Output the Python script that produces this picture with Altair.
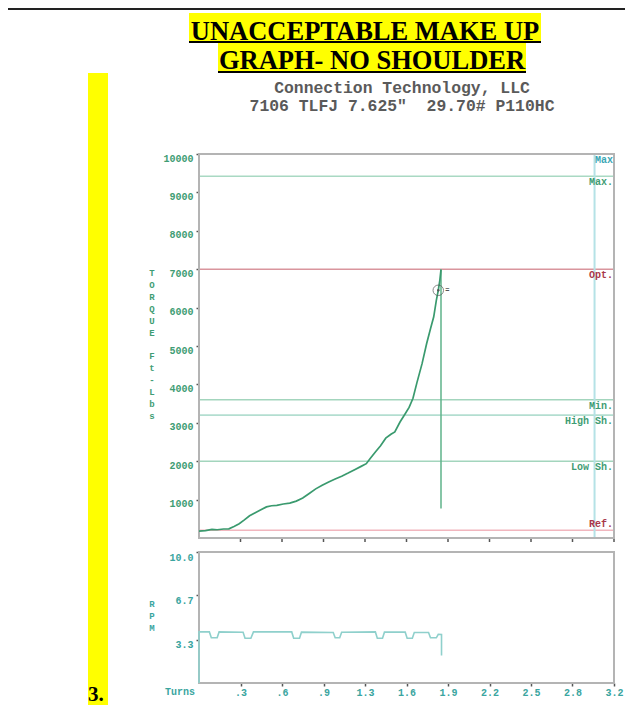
import altair as alt
import pandas as pd

# ---------------- data ----------------
torque_turns = [0.00, 0.05, 0.10, 0.14, 0.19, 0.23, 0.27, 0.31, 0.35, 0.39, 0.43, 0.47, 0.52, 0.56,
                0.60, 0.65, 0.70, 0.75, 0.80, 0.85, 0.90, 0.95, 1.00, 1.05, 1.10, 1.15, 1.20, 1.25,
                1.29, 1.32, 1.36, 1.40, 1.44, 1.48, 1.51, 1.55, 1.59, 1.62, 1.65, 1.68, 1.72, 1.755,
                1.785, 1.81, 1.83, 1.845, 1.857, 1.866]
torque_vals = [180, 190, 225, 215, 235, 240, 300, 370, 470, 580, 650, 720, 810, 840,
               850, 885, 910, 960, 1040, 1160, 1280, 1375, 1460, 1535, 1610, 1690, 1780, 1865,
               1935, 2070, 2240, 2400, 2600, 2700, 2760, 3020, 3235, 3400, 3640, 4040, 4540, 5060,
               5450, 5760, 6190, 6450, 6710, 6990]

rpm_turns = [0.0, 0.0, 0.08, 0.095, 0.14, 0.155, 0.34, 0.355, 0.40, 0.42, 0.715, 0.73, 0.775, 0.79,
             1.035, 1.05, 1.085, 1.10, 1.36, 1.375, 1.415, 1.43, 1.59, 1.605, 1.645, 1.66,
             1.77, 1.785, 1.83, 1.845, 1.87, 1.87]
rpm_vals = [0.0, 3.9, 3.9, 3.45, 3.45, 3.9, 3.88, 3.42, 3.42, 3.9, 3.9, 3.42, 3.42, 3.88,
            3.86, 3.45, 3.45, 3.88, 3.9, 3.42, 3.42, 3.88, 3.88, 3.42, 3.42, 3.86,
            3.85, 3.45, 3.45, 3.72, 3.7, 2.1]

limit_names = ["Max", "Max.", "Opt.", "Min.", "High Sh.", "Low Sh.", "Ref."]
limit_vals = [10000, 9420, 7000, 3600, 3200, 2000, 200]
limit_line_colors = ["#b4b4b4", "#a9d9c3", "#d9959d", "#a3d5bd", "#b3ded0", "#a3d5bd", "#f1b6be"]
limit_label_colors = ["#3aa7b5", "#3f9d74", "#a8384a", "#3f9d74", "#3f9d74", "#3f9d74", "#a8384a"]
limit_label_side = ["below", "below", "below", "below", "below", "below", "above"]

max_turns = 3.05
final_turns = 1.866
final_low, final_high = 770, 7000
marker_turns, marker_torque = 1.845, 6450

x_tick_vals = [0.32, 0.64, 0.96, 1.28, 1.6, 1.92, 2.24, 2.56, 2.88, 3.2]
x_tick_labels = [".3", ".6", ".9", "1.3", "1.6", "1.9", "2.2", "2.5", "2.8", "3.2"]
torque_ticks = [1000, 2000, 3000, 4000, 5000, 6000, 7000, 8000, 9000, 10000]
rpm_ticks = [3.3, 6.7, 10.0]

title_lines = ["UNACCEPTABLE MAKE UP", "GRAPH- NO SHOULDER"]
sub_lines = ["Connection Technology, LLC", '7106 TLFJ 7.625"\u00a0 29.70# P110HC']
torque_letters_1 = ["T", "O", "R", "Q", "U", "E"]
torque_letters_2 = ["F", "t", "-", "L", "b", "s"]
rpm_letters = ["R", "P", "M"]
x_title = "Turns"
figure_no = "3."

# ---------------- styling ----------------
GREEN = "#3f9d74"
TEAL = "#3aa5a0"
MONO = "Liberation Mono"
W, H = 415, 529
TOP_H = 384
BOT_TOP = 398
LH = 11.9

xscale = alt.Scale(domain=[0, 3.2], nice=False, zero=False)
ty = alt.Scale(domain=[0, 10000], range=[TOP_H, 0], nice=False, zero=False)
ry = alt.Scale(domain=[0, 10], range=[H, BOT_TOP], nice=False, zero=False)

label_expr = "[" + ",".join(f"'{l}'" for l in x_tick_labels) + "][round(datum.value / 0.32) - 1]"
xaxis = alt.Axis(values=x_tick_vals, labelExpr=label_expr, title=None, domain=False, grid=False,
                 tickSize=3, tickColor="#555", tickWidth=1.5, labelColor=TEAL, labelFont=MONO,
                 labelFontSize=10, labelFontWeight="bold", labelPadding=1, labelFlush=False,
                 labelOverlap=False, orient="bottom")
taxis = alt.Axis(values=torque_ticks, format="d", title=None, domain=False, grid=False, orient="left",
                 tickSize=3, tickColor="#555", tickWidth=1.5, labelColor=GREEN, labelFont=MONO,
                 labelFontSize=10, labelFontWeight="bold", labelPadding=3, labelOffset=4)
raxis = alt.Axis(values=rpm_ticks, format=".1f", title=None, domain=False, grid=False, orient="left",
                 tickSize=3, tickColor="#555", tickWidth=1.5, labelColor=TEAL, labelFont=MONO,
                 labelFontSize=10, labelFontWeight="bold", labelPadding=3, labelOffset=5)

torque_df = pd.DataFrame({"turns": torque_turns, "torque": torque_vals, "i": range(len(torque_vals))})
rpm_df = pd.DataFrame({"turns": rpm_turns, "rpm": rpm_vals, "i": range(len(rpm_vals))})
limits_df = pd.DataFrame({"name": limit_names, "torque": limit_vals, "lc": limit_line_colors,
                          "tc": limit_label_colors, "side": limit_label_side})
xt_df = pd.DataFrame({"turns": x_tick_vals})
one = pd.DataFrame({"k": [0]})

def X(field):
    return alt.X(f"{field}:Q", scale=xscale, axis=xaxis)

def TY(field):
    return alt.Y(f"{field}:Q", scale=ty, axis=taxis)

def RY(field):
    return alt.Y(f"{field}:Q", scale=ry, axis=raxis)

# ---------------- top panel ----------------
frame_top = alt.Chart(pd.DataFrame({"x0": [0], "x1": [3.2], "y0": [0], "y1": [10000]})).mark_rect(
    fillOpacity=0, stroke="#b4b4b4", strokeWidth=2).encode(x=X("x0"), x2="x1", y=TY("y0"), y2="y1")

hlines = alt.Chart(limits_df).mark_rule(strokeWidth=1.6).encode(
    x=alt.value(0), x2=alt.value(W), y=TY("torque"), color=alt.Color("lc:N", scale=None))

max_turn_line = alt.Chart(pd.DataFrame({"turns": [max_turns], "y0": [0], "y1": [10000]})).mark_rule(
    color="#b5e2e6", strokeWidth=2).encode(x=X("turns"), y=TY("y0"), y2="y1")

final_line = alt.Chart(pd.DataFrame({"turns": [final_turns], "y0": [final_low], "y1": [final_high]})).mark_rule(
    color="#5fb38a", strokeWidth=1.5).encode(x=X("turns"), y=TY("y0"), y2="y1")

curve = alt.Chart(torque_df).mark_line(color="#3a9a6e", strokeWidth=1.7).encode(
    x=X("turns"), y=TY("torque"), order="i:O")

mk_df = pd.DataFrame({"turns": [marker_turns], "torque": [marker_torque]})
marker = alt.Chart(mk_df).mark_point(shape="circle", filled=False, size=110, color="#555",
                                     strokeWidth=1).encode(x=X("turns"), y=TY("torque"))
marker_dot = alt.Chart(mk_df).mark_point(shape="circle", filled=True, size=6, color="#555",
                                         opacity=1).encode(x=X("turns"), y=TY("torque"))
marker_txt = alt.Chart(mk_df).mark_text(text="=", dx=9, fontSize=7, color="#555", font=MONO,
                                        fontWeight="bold").encode(x=X("turns"), y=TY("torque"))

lab_below = alt.Chart(limits_df).transform_filter("datum.side == 'below'").mark_text(
    align="right", baseline="middle", dy=6, font=MONO, fontSize=10, fontWeight="bold").encode(
    x=alt.value(W - 1), y=TY("torque"), text="name:N", color=alt.Color("tc:N", scale=None))
lab_above = alt.Chart(limits_df).transform_filter("datum.side == 'above'").mark_text(
    align="right", baseline="middle", dy=-6, font=MONO, fontSize=10, fontWeight="bold").encode(
    x=alt.value(W - 1), y=TY("torque"), text="name:N", color=alt.Color("tc:N", scale=None))

top_ticks = alt.Chart(xt_df).mark_rule(color="#555", strokeWidth=1.5).encode(
    x=X("turns"), y=alt.value(TOP_H + 1), y2=alt.value(TOP_H + 4))

top = alt.layer(hlines, max_turn_line, frame_top, final_line, curve, marker, marker_dot, marker_txt,
                lab_below, lab_above, top_ticks)

# ---------------- bottom panel ----------------
frame_bot = alt.Chart(pd.DataFrame({"x0": [0], "x1": [3.2], "y0": [0], "y1": [10]})).mark_rect(
    fillOpacity=0, stroke="#b4b4b4", strokeWidth=2).encode(x=X("x0"), x2="x1", y=RY("y0"), y2="y1")
rpm_line = alt.Chart(rpm_df).mark_line(color="#8fd0cc", strokeWidth=1.6).encode(
    x=X("turns"), y=RY("rpm"), order="i:O")
bottom = alt.layer(frame_bot, rpm_line)

# ---------------- decorations ----------------
def rect(x0, x1, y0, y1, color):
    return alt.Chart(one).mark_rect(color=color).encode(
        x=alt.value(x0), x2=alt.value(x1), y=alt.value(y0), y2=alt.value(y1))

def stack(letters, color, y0, lh):
    return alt.Chart(one).mark_text(text=letters, font=MONO, fontSize=9, fontWeight="bold",
                                    color=color, align="center", baseline="top", lineHeight=lh).encode(
        x=alt.value(-47), y=alt.value(y0))

deco = [
    rect(-199, 426, -146, -144, "#222"),                 # top border line
    rect(-111, -91, -81, 551, "#ffff00"),                # yellow side bar
    rect(-10, 342, -141, -111, "#ffff00"),               # highlight title line 1
    rect(19, 327, -111, -81, "#ffff00"),                 # highlight title line 2
    rect(-10, 342, -113, -111, "#000"),                  # underline 1
    rect(19, 327, -83, -81, "#000"),                     # underline 2
]
t1 = alt.Chart(one).mark_text(text=title_lines[0], font="Liberation Serif", fontSize=26.5,
                              fontWeight="bold", color="#000", align="center", baseline="alphabetic").encode(
    x=alt.value(166), y=alt.value(-114.5))
t2 = alt.Chart(one).mark_text(text=title_lines[1], font="Liberation Serif", fontSize=26.5,
                              fontWeight="bold", color="#000", align="center", baseline="alphabetic").encode(
    x=alt.value(173), y=alt.value(-85.5))
s1 = alt.Chart(one).mark_text(text=sub_lines[0], font=MONO, fontSize=16.4, fontWeight="bold",
                              color="#5a5a5a", align="center", baseline="alphabetic").encode(
    x=alt.value(203), y=alt.value(-61))
s2 = alt.Chart(one).mark_text(text=sub_lines[1], font=MONO, fontSize=16.4, fontWeight="bold",
                              color="#5a5a5a", align="center", baseline="alphabetic").encode(
    x=alt.value(203), y=alt.value(-43))
ytitle1 = stack(torque_letters_1, GREEN, 115, LH)
ytitle2 = stack(torque_letters_2, GREEN, 115 + 7 * LH, LH)
rtitle = stack(rpm_letters, TEAL, 446, 12)
xtitle = alt.Chart(one).mark_text(text=x_title, font=MONO, fontSize=10, fontWeight="bold",
                                  color=TEAL, align="right", baseline="middle").encode(
    x=alt.value(-4), y=alt.value(538))
fig_no = alt.Chart(one).mark_text(text=figure_no, font="Liberation Serif", fontSize=21,
                                  fontWeight="bold", color="#000", align="left", baseline="alphabetic").encode(
    x=alt.value(-111), y=alt.value(547))

chart = alt.layer(top, bottom, *deco, t1, t2, s1, s2, ytitle1, ytitle2, rtitle, xtitle, fig_no).resolve_scale(
    y="independent").properties(
    width=W, height=H,
    autosize=alt.AutoSizeParams(type="none"),
    padding={"left": 191, "top": 146, "right": 20, "bottom": 28},
    background="white",
).configure_view(stroke=None)

chart.save("out.html", embed_options={"renderer": "svg", "actions": False})
